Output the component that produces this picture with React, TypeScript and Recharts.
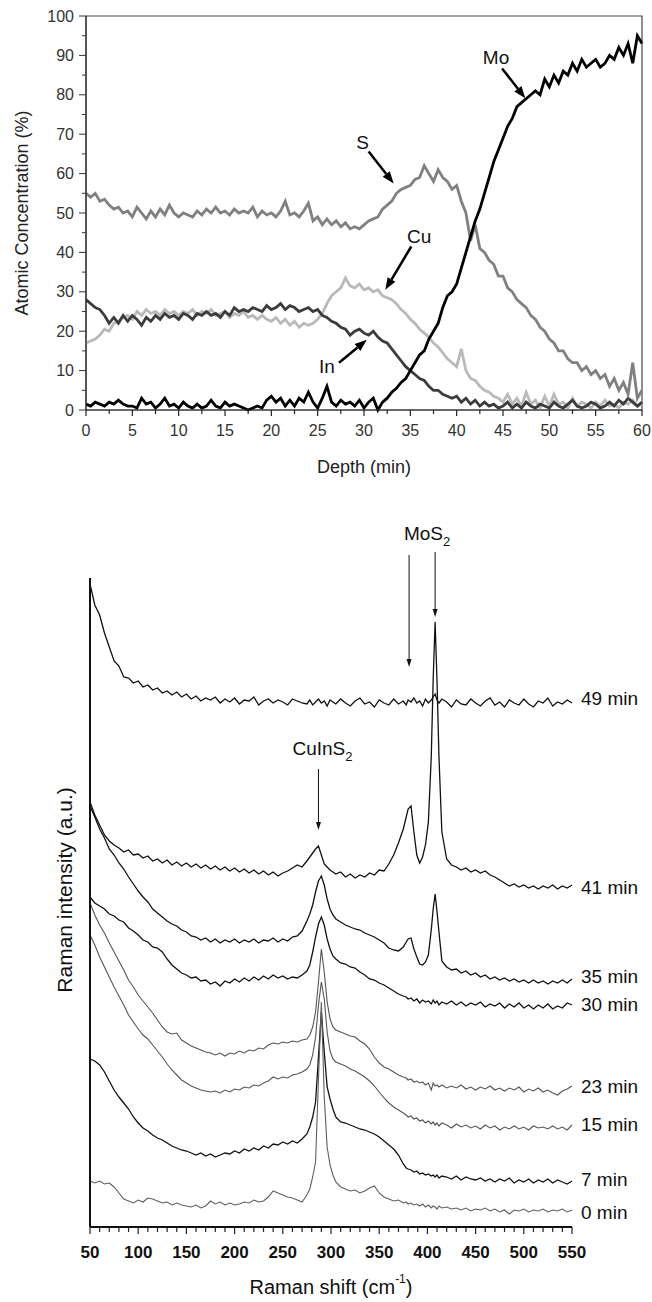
import React from "react";
import { LineChart, Line, XAxis, YAxis, ReferenceArea, ReferenceLine, ReferenceDot } from "recharts";

const FONT = '"Liberation Sans", Arial, Helvetica, sans-serif';

// ---------- depth profile (top panel) ----------
const depthMin = [
  0, 0.5, 1, 1.5, 2, 2.5, 3, 3.5, 4, 4.5, 5, 5.5, 6, 6.5, 7, 7.5, 8, 8.5, 9, 9.5,
  10, 10.5, 11, 11.5, 12, 12.5, 13, 13.5, 14, 14.5, 15, 15.5, 16, 16.5, 17, 17.5, 18, 18.5, 19, 19.5,
  20, 20.5, 21, 21.5, 22, 22.5, 23, 23.5, 24, 24.5, 25, 25.5, 26, 26.5, 27, 27.5, 28, 28.5, 29, 29.5,
  30, 30.5, 31, 31.5, 32, 32.5, 33, 33.5, 34, 34.5, 35, 35.5, 36, 36.5, 37, 37.5, 38, 38.5, 39, 39.5,
  40, 40.5, 41, 41.5, 42, 42.5, 43, 43.5, 44, 44.5, 45, 45.5, 46, 46.5, 47, 47.5, 48, 48.5, 49, 49.5,
  50, 50.5, 51, 51.5, 52, 52.5, 53, 53.5, 54, 54.5, 55, 55.5, 56, 56.5, 57, 57.5, 58, 58.5, 59, 59.5, 60,
];
const sConc = [
  55, 54, 55, 53, 53.5, 52, 51, 51.5, 50, 50.5, 49, 51.5, 50, 48.5, 50.5, 49, 51, 49.5, 52, 50,
  49, 50, 49.5, 49, 50.5, 49.5, 51, 50, 51.5, 50, 50.5, 49.5, 51, 50, 50.5, 50, 51.5, 49, 50.5, 49.5,
  50, 49, 50.5, 53, 49.5, 50, 49, 50.5, 52.5, 48, 49, 47, 48.5, 47, 48, 46.5, 47.5, 46, 46.5, 46,
  47, 48, 48.5, 49, 51, 52, 53, 55, 56, 56.5, 57, 58.5, 59, 62, 60, 58, 61, 59, 58, 56,
  57, 53, 50, 43, 47, 41, 40, 38, 37, 34, 34, 31, 30, 28, 27, 26, 24, 23, 21, 20,
  18, 17, 15, 15, 13, 12, 12, 10, 11, 9, 10, 8, 9, 6, 8, 5, 7, 4, 12, 3, 5,
];
const cuConc = [
  17, 17.5, 18, 19, 20.5, 20, 22, 22.5, 23.5, 24, 23, 25, 24, 25.5, 24.5, 25, 24, 25.5, 24.5, 25,
  24, 25, 24.5, 25.5, 24, 25, 24.5, 25.5, 24, 24.5, 25, 23.5, 24.5, 24, 25, 23.5, 24, 23, 24, 23,
  22.5, 23.5, 22, 23, 21.5, 22.5, 21, 22, 21.5, 22, 23, 24.5, 27, 29, 30, 31, 33.5, 31.5, 31, 32,
  30.5, 31, 30, 30.5, 29, 28.5, 28, 27, 25.5, 24.5, 23, 22, 20.5, 19.5, 18.5, 17, 16, 14.5, 13, 12,
  11, 15.5, 10, 8, 7.5, 6, 5, 4.5, 3.5, 3, 2, 4, 1.5, 3, 1, 4.5, 1.5, 2.5, 0.5, 3.5,
  1, 4, 1.5, 2, 0.5, 3, 1, 2, 1.5, 0.5, 2, 1, 2.5, 1, 1.5, 0.5, 2, 1.5, 2.5, 1, 1.5,
];
const inConc = [
  28, 27, 26, 25.5, 24, 22, 23.5, 22, 24, 22.5, 24, 23, 21.5, 23.5, 22.5, 24, 23, 24.5, 23.5, 24,
  23, 24.5, 24, 23, 24.5, 24, 25, 24, 24.5, 23.5, 25, 24, 26, 25, 25.5, 25, 26, 25.5, 25, 26.5,
  25.5, 26, 27, 25.5, 26.5, 26, 25, 25.5, 26, 25, 25.5, 24, 23.5, 22.5, 22, 21, 20.5, 19, 20, 20.5,
  19.5, 19, 20, 18.5, 17.5, 17, 15.5, 14, 12.5, 11, 10, 9, 8, 7.5, 6, 5, 5, 4, 3.5, 3,
  3.5, 2, 3, 1.5, 2.5, 1, 2, 1, 1.5, 0.5, 1, 2, 0.5, 1.5, 0.5, 2, 1, 0.5, 1.5, 1,
  0.5, 2, 1, 0.5, 1.5, 2.5, 1, 0.5, 1, 2, 1.5, 0.5, 1, 2, 1, 2.5, 1.5, 3, 2, 1, 2,
];
const moConc = [
  1.5, 1, 2, 1.5, 1, 2, 1.5, 2.5, 1.5, 1, 1, 0.5, 3, 1.5, 2, 0.5, 1.5, 3, 1, 1.5,
  0.5, 2, 1, 0.5, 1.5, 0.5, 1, 2.5, 1, 0.5, 2, 1, 1.5, 1, 0.5, 0, 0.5, 1, 0.5, 2.5,
  3.5, 2, 3, 1, 2.5, 1, 3, 2, 4.5, 2, 0.5, 3, 6, 2, 1, 2.5, 1.5, 2, 1, 2.5,
  0.5, 2, 3, 0, 2, 3, 4.5, 5.5, 7, 8, 10, 12, 14, 15, 18, 20, 22, 26, 29, 30,
  32, 36, 40, 44, 48, 51, 55, 59, 63, 66, 69, 72, 74, 77, 78, 79, 80, 81, 80, 84,
  82, 85, 83, 86, 85, 88, 86, 89, 87, 88, 89, 87, 88, 90, 89, 92, 90, 93, 88, 95, 93,
];
const depthTicks = [0, 2.5, 5, 7.5, 10, 12.5, 15, 17.5, 20, 22.5, 25, 27.5, 30, 32.5, 35, 37.5, 40, 42.5, 45, 47.5, 50, 52.5, 55, 57.5, 60];
const concTicks = [0, 5, 10, 15, 20, 25, 30, 35, 40, 45, 50, 55, 60, 65, 70, 75, 80, 85, 90, 95, 100];

// ---------- Raman spectra (bottom panel) ----------
const ramanShift = [
  50, 55, 60, 65, 70, 75, 80, 85, 90, 95, 100, 105, 110, 115, 120, 125, 130, 135, 140, 145,
  150, 155, 160, 165, 170, 175, 180, 185, 190, 195, 200, 205, 210, 215, 220, 225, 230, 235, 240, 245,
  250, 255, 260, 265, 270, 275,
  278, 281, 284, 287, 290, 293, 296, 299, 302,
  305, 310, 315, 320, 325, 330, 335, 340, 345, 350, 355, 360, 365, 370, 375,
  378, 380, 383, 386, 389, 392, 395, 398, 401, 404, 406, 408, 410, 412, 415,
  420, 425, 430, 435, 440, 445, 450, 455, 460, 465, 470, 475, 480, 485, 490, 495, 500, 505, 510, 515,
  520, 525, 530, 535, 540, 545, 550,
];
const raman49 = [
  643, 622, 612, 594, 580, 566, 561, 550, 549, 544, 546, 540, 542, 537, 539, 534, 536, 532, 535, 530,
  533, 528, 531, 526, 529, 527, 530, 524, 528, 525, 529, 523, 527, 526, 530, 522, 526, 528, 524, 527,
  525, 522, 528, 526, 524, 523,
  527, 522, 525, 528, 524, 526, 521, 527, 525,
  523, 528, 524, 521, 526, 529, 523, 525, 520, 527, 524, 522, 528, 523, 526,
  522, 527, 525, 529, 524, 526, 521, 528, 524, 527, 530, 533, 527, 524, 528,
  525, 520, 527, 523, 522, 528, 524, 521, 526, 529, 522, 525, 520, 527, 524, 522, 528, 523, 520, 526,
  524, 529, 521, 525, 523, 527, 524,
];
const raman41 = [
  425, 412, 402, 392, 386, 382, 379, 375, 377, 372, 373, 369, 371, 366, 368, 364, 367, 362, 365, 361,
  364, 360, 363, 359, 362, 358, 361, 357, 360, 356, 359, 355, 358, 354, 357, 353, 356, 352, 355, 351,
  354, 356, 359, 362, 360, 366,
  370, 374, 378, 381, 372, 363, 360, 357, 355,
  353, 355, 350, 353, 349, 352, 350, 354, 352, 357, 356, 363, 372, 384, 398,
  410, 418, 421, 395, 372, 364, 370, 382, 405, 470, 548, 605, 545, 470, 395,
  368, 362, 360, 357, 359, 355, 357, 354, 356, 352, 350, 347, 344, 341, 343, 340, 342, 339, 341, 338,
  341, 339, 342, 338, 341, 339, 342,
];
const raman35 = [
  421, 410, 398, 389, 378, 372, 364, 358, 350, 343, 336, 330, 325, 318, 314, 310, 306, 303, 301, 297,
  295, 291, 290, 287, 289, 285, 288, 284, 287, 285, 288, 284, 287, 285, 288, 284, 287, 286, 289, 285,
  288, 286, 290, 291, 296, 306,
  313, 322, 335, 346, 351, 342, 328, 318, 312,
  308, 305, 302, 300, 298, 297, 294, 292, 290, 287, 284, 279, 277, 276, 280,
  285, 288, 289, 278, 270, 263, 262, 265, 272, 297, 318, 333, 315, 295, 266,
  260, 257, 258, 254, 256, 252, 254, 250, 252, 248, 250, 247, 249, 246, 248, 245, 247, 244, 247, 244,
  246, 243, 246, 244, 247, 244, 248,
];
const raman30 = [
  330, 324, 321, 318, 313, 311, 307, 305, 299, 296, 292, 287, 285, 280, 279, 275, 268, 262, 258, 254,
  252, 249, 250, 246, 247, 243, 245, 241, 246, 244, 248, 245, 249, 246, 250, 247, 251, 248, 252, 249,
  251, 248, 250, 249, 252, 256,
  262, 275, 290, 303, 310, 302, 288, 278, 271,
  268, 264, 263, 260, 259, 255, 252, 248, 247, 244, 242, 239, 236, 233, 231,
  230, 228, 229, 226, 228, 224, 227, 225, 226, 223, 227, 224, 226, 222, 225,
  223, 226, 222, 225, 221, 224, 222, 225, 220, 223, 221, 224, 219, 223, 220, 224, 219, 222, 218, 222,
  219, 223, 218, 221, 219, 224, 222,
];
const raman23 = [
  324, 312, 302, 294, 284, 275, 266, 257, 247, 240, 232, 226, 220, 214, 207, 200, 195, 193, 194, 187,
  184, 181, 179, 177, 175, 174, 172, 174, 171, 174, 173, 176, 174, 177, 176, 179, 178, 182, 184, 183,
  185, 184, 186, 185, 187, 188,
  192, 200, 215, 245, 278, 255, 225, 208, 200,
  197, 195, 193, 191, 190, 186, 183, 178, 170, 164, 160, 158, 155, 152, 150,
  149, 147, 148, 145, 146, 144, 145, 142, 144, 137, 144, 141, 142, 140, 142,
  139, 141, 139, 142, 138, 140, 137, 140, 138, 141, 137, 139, 136, 139, 137, 140, 135, 138, 136, 139,
  135, 137, 134, 132, 136, 138, 141,
];
const raman15 = [
  292, 282, 270, 260, 250, 240, 231, 222, 212, 205, 198, 192, 188, 182, 176, 170, 163, 157, 152, 147,
  144, 141, 139, 137, 136, 135, 136, 134, 137, 135, 138, 137, 140, 139, 142, 141, 144, 146, 150, 148,
  150, 149, 152, 153, 155, 158,
  162, 172, 190, 222, 245, 228, 195, 176, 168,
  165, 163, 161, 158, 156, 153, 150, 146, 141, 135, 129, 124, 120, 117, 114,
  112, 110, 111, 108, 109, 106, 107, 104, 106, 103, 105, 102, 104, 101, 104,
  102, 99, 103, 100, 102, 99, 101, 98, 102, 99, 101, 97, 100, 98, 101, 98, 100, 97, 101, 99,
  100, 98, 101, 98, 100, 97, 102,
];
const raman7 = [
  168, 166, 162, 155, 146, 137, 130, 124, 118, 110, 104, 99, 96, 92, 89, 87, 84, 81, 79, 77,
  76, 74, 72, 74, 71, 73, 70, 72, 74, 73, 76, 74, 78, 76, 79, 77, 81, 79, 83, 82,
  85, 83, 86, 84, 88, 93,
  100, 110, 125, 170, 215, 175, 140, 128, 118,
  110, 105, 104, 102, 100, 98, 97, 95, 93, 90, 86, 82, 78, 72, 63,
  59, 58, 57, 55, 56, 53, 54, 52, 53, 51, 52, 50, 52, 49, 51,
  50, 48, 51, 47, 50, 48, 47, 49, 46, 48, 45, 48, 46, 49, 44, 47, 45, 48, 44, 47,
  45, 48, 44, 47, 45, 43, 46,
];
const raman0 = [
  46, 44, 46, 43, 44, 40, 34, 28, 26, 24, 27, 25, 29, 28, 26, 24, 25, 22, 24, 22,
  21, 20, 22, 19, 21, 26, 23, 25, 22, 24, 22, 23, 25, 24, 27, 25, 26, 30, 36, 34,
  32, 30, 29, 27, 25, 32,
  38, 50, 65, 148, 225, 130, 80, 62, 52,
  45, 40, 38, 36, 37, 34, 36, 39, 41, 34, 30, 28, 26, 27, 24,
  25, 23, 24, 22, 23, 21, 23, 20, 22, 19, 21, 20, 18, 21, 19,
  20, 18, 19, 17, 19, 16, 18, 17, 19, 16, 18, 15, 17, 13, 17, 16, 18, 15, 17, 16,
  18, 15, 17, 16, 18, 15, 17,
];
const ramanTicks = [
  50, 60, 70, 80, 90, 100, 110, 120, 130, 140, 150, 160, 170, 180, 190, 200, 210, 220, 230, 240,
  250, 260, 270, 280, 290, 300, 310, 320, 330, 340, 350, 360, 370, 380, 390, 400, 410, 420, 430, 440,
  450, 460, 470, 480, 490, 500, 510, 520, 530, 540, 550,
];
const spectrumKeys = ["m49", "m41", "m35", "m30", "m23", "m15", "m7", "m0"];
const spectrumNames = ["49 min", "41 min", "35 min", "30 min", "23 min", "15 min", "7 min", "0 min"];
const spectrumLabelLevel = [529, 340, 251, 223, 141, 103, 48, 15];
const spectrumColors = ["#111", "#111", "#111", "#111", "#555", "#555", "#111", "#5e5e5e"];

const topData = depthMin.map((d, i) => ({ depth: d, S: sConc[i], Cu: cuConc[i], In: inConc[i], Mo: moConc[i] }));
const ramanSeries = [raman49, raman41, raman35, raman30, raman23, raman15, raman7, raman0];
const ramanData = ramanShift.map((x, i) => {
  const row: any = { shift: x };
  spectrumKeys.forEach((k, j) => (row[k] = ramanSeries[j][i]));
  return row;
});

// ---------- helpers ----------
function arrowShape(color: string, width: number, head: number, headW: number, text?: React.ReactNode, tdx = 0, tdy = 0, size = 18) {
  return (p: any) => {
    const { x1, y1, x2, y2 } = p;
    const a = Math.atan2(y2 - y1, x2 - x1);
    const bx = x2 - head * Math.cos(a);
    const by = y2 - head * Math.sin(a);
    const nx = (-Math.sin(a) * headW) / 2;
    const ny = (Math.cos(a) * headW) / 2;
    return (
      <g>
        <line x1={x1} y1={y1} x2={bx} y2={by} stroke={color} strokeWidth={width} />
        <polygon points={`${x2},${y2} ${bx + nx},${by + ny} ${bx - nx},${by - ny}`} fill={color} />
        {text && (
          <text x={x1 + tdx} y={y1 + tdy} textAnchor="middle" fontFamily={FONT} fontSize={size} fill="#111">
            {text}
          </text>
        )}
      </g>
    );
  };
}

function xTick(isMajor: (v: number) => boolean, major: number, minor: number, labelDy: number, font: any) {
  return (props: any) => {
    const { x, y, payload } = props;
    const m = isMajor(payload.value);
    return (
      <g>
        <line x1={x} y1={y} x2={x} y2={y + (m ? major : minor)} stroke="#222" strokeWidth={1.2} />
        {m && (
          <text x={x} y={y + labelDy} textAnchor="middle" dominantBaseline="central" {...font}>
            {payload.value}
          </text>
        )}
      </g>
    );
  };
}

function yTick(isMajor: (v: number) => boolean, major: number, minor: number, labelDx: number, font: any) {
  return (props: any) => {
    const { x, y, payload } = props;
    const m = isMajor(payload.value);
    return (
      <g>
        <line x1={x} y1={y} x2={x - (m ? major : minor)} y2={y} stroke="#333" strokeWidth={1} />
        {m && (
          <text x={x - labelDx} y={y} textAnchor="end" dominantBaseline="central" {...font}>
            {payload.value}
          </text>
        )}
      </g>
    );
  };
}

const topFont = { fontFamily: FONT, fontSize: 16, fill: "#333" };
const botFont = { fontFamily: FONT, fontSize: 17, fill: "#111", fontWeight: 700 };

function DepthProfile() {
  return (
    <LineChart width={652} height={490} data={topData} margin={{ top: 16, right: 10, bottom: 0, left: 0 }}>
      <XAxis
        dataKey="depth"
        type="number"
        domain={[0, 60]}
        ticks={depthTicks}
        interval={0}
        height={80}
        tickSize={0}
        tickMargin={0}
        tickLine={false}
        axisLine={{ stroke: "#333", strokeWidth: 1.2 }}
        tick={xTick((v) => v % 5 === 0, 6, 4, 20, topFont)}
        label={{
          content: (p: any) => (
            <text x={p.viewBox.x + p.viewBox.width / 2} y={p.viewBox.y + 57} textAnchor="middle" dominantBaseline="central" fontFamily={FONT} fontSize={18} fill="#222">
              Depth (min)
            </text>
          ),
        }}
      />
      <YAxis
        type="number"
        domain={[0, 100]}
        ticks={concTicks}
        interval={0}
        width={86}
        tickSize={0}
        tickMargin={0}
        tickLine={false}
        axisLine={{ stroke: "#333", strokeWidth: 1.2 }}
        tick={yTick((v) => v % 10 === 0, 7, 4, 12, topFont)}
        label={{
          content: () => (
            <text x={22} y={213} transform="rotate(-90 22 213)" textAnchor="middle" dominantBaseline="central" fontFamily={FONT} fontSize={18} fill="#222">
              Atomic Concentration (%)
            </text>
          ),
        }}
      />
      <ReferenceArea x1={0} x2={60} y1={0} y2={100} fill="none" stroke="#444" strokeWidth={1.2} ifOverflow="visible" />
      <Line dataKey="Cu" stroke="#b9b9b9" strokeWidth={2.8} dot={false} isAnimationActive={false} />
      <Line dataKey="In" stroke="#3c3c3c" strokeWidth={2.8} dot={false} isAnimationActive={false} />
      <Line dataKey="S" stroke="#808080" strokeWidth={2.8} dot={false} isAnimationActive={false} />
      <Line dataKey="Mo" stroke="#000" strokeWidth={2.8} dot={false} isAnimationActive={false} />
      <ReferenceLine segment={[{ x: 44.9, y: 86.7 }, { x: 47.4, y: 79.1 }]} ifOverflow="visible" shape={arrowShape("#000", 2.5, 12, 9, "Mo", -6, -4, 19)} />
      <ReferenceLine segment={[{ x: 30.5, y: 65.6 }, { x: 33.2, y: 57.5 }]} ifOverflow="visible" shape={arrowShape("#000", 2.5, 12, 9, "S", -6, -3, 19)} />
      <ReferenceLine segment={[{ x: 35.1, y: 41.5 }, { x: 32.3, y: 30.5 }]} ifOverflow="visible" shape={arrowShape("#000", 2.5, 12, 9, "Cu", 8, -3, 19)} />
      <ReferenceLine segment={[{ x: 27.3, y: 12 }, { x: 30.3, y: 17.8 }]} ifOverflow="visible" shape={arrowShape("#000", 2.5, 12, 9, "In", -12, 10, 19)} />
    </LineChart>
  );
}

function RamanSpectra() {
  return (
    <LineChart width={652} height={802} data={ramanData} margin={{ top: 78, right: 80, bottom: 0, left: 0 }}>
      <XAxis
        dataKey="shift"
        type="number"
        domain={[50, 550]}
        ticks={ramanTicks}
        interval={0}
        height={75}
        tickSize={0}
        tickMargin={0}
        tickLine={false}
        axisLine={{ stroke: "#111", strokeWidth: 2 }}
        tick={xTick((v) => v % 50 === 0, 7, 5, 25, botFont)}
        label={{
          content: (p: any) => (
            <text x={p.viewBox.x + p.viewBox.width / 2} y={p.viewBox.y + 60} textAnchor="middle" dominantBaseline="central" fontFamily={FONT} fontSize={20} fill="#111">
              <tspan>Raman shift (cm</tspan>
              <tspan dy={-8} fontSize={12}>-1</tspan>
              <tspan dy={8}>)</tspan>
            </text>
          ),
        }}
      />
      <YAxis
        type="number"
        domain={[0, 649]}
        allowDataOverflow
        width={90}
        tick={false}
        tickLine={false}
        axisLine={{ stroke: "#111", strokeWidth: 2 }}
        label={{
          content: () => (
            <text x={64} y={390} transform="rotate(-90 64 390)" textAnchor="middle" dominantBaseline="central" fontFamily={FONT} fontSize={21} fill="#111">
              Raman intensity (a.u.)
            </text>
          ),
        }}
      />
      {spectrumKeys.map((k, i) => (
        <Line key={k} dataKey={k} stroke={spectrumColors[i]} strokeWidth={spectrumColors[i] === "#111" ? 1.3 : 1.1} dot={false} isAnimationActive={false} />
      ))}
      {spectrumNames.map((n, i) => (
        <ReferenceDot
          key={n}
          x={550}
          y={spectrumLabelLevel[i]}
          r={0}
          ifOverflow="visible"
          shape={(p: any) => (
            <text x={p.cx + 9} y={p.cy} dominantBaseline="central" fontFamily={FONT} fontSize={19} fill="#111">
              {n}
            </text>
          )}
        />
      ))}
      <ReferenceLine
        segment={[{ x: 287, y: 458 }, { x: 287, y: 397 }]}
        ifOverflow="visible"
        shape={arrowShape("#111", 1, 8, 5, <><tspan>CuInS</tspan><tspan dy={6} fontSize={13}>2</tspan></>, 4, -14, 19)}
      />
      <ReferenceLine segment={[{ x: 381, y: 672 }, { x: 381, y: 560 }]} ifOverflow="visible" shape={arrowShape("#111", 1, 8, 5)} />
      <ReferenceLine
        segment={[{ x: 408, y: 675 }, { x: 408, y: 610 }]}
        ifOverflow="visible"
        shape={arrowShape("#111", 1, 8, 5, <><tspan>MoS</tspan><tspan dy={6} fontSize={13}>2</tspan></>, -8, -12, 19)}
      />
    </LineChart>
  );
}

export default function App() {
  return (
    <div style={{ position: "absolute", left: 0, top: 0, width: 652, height: 1302, background: "#fff" }}>
      <div style={{ position: "absolute", left: 0, top: 0 }}>
        <DepthProfile />
      </div>
      <div style={{ position: "absolute", left: 0, top: 500 }}>
        <RamanSpectra />
      </div>
    </div>
  );
}
